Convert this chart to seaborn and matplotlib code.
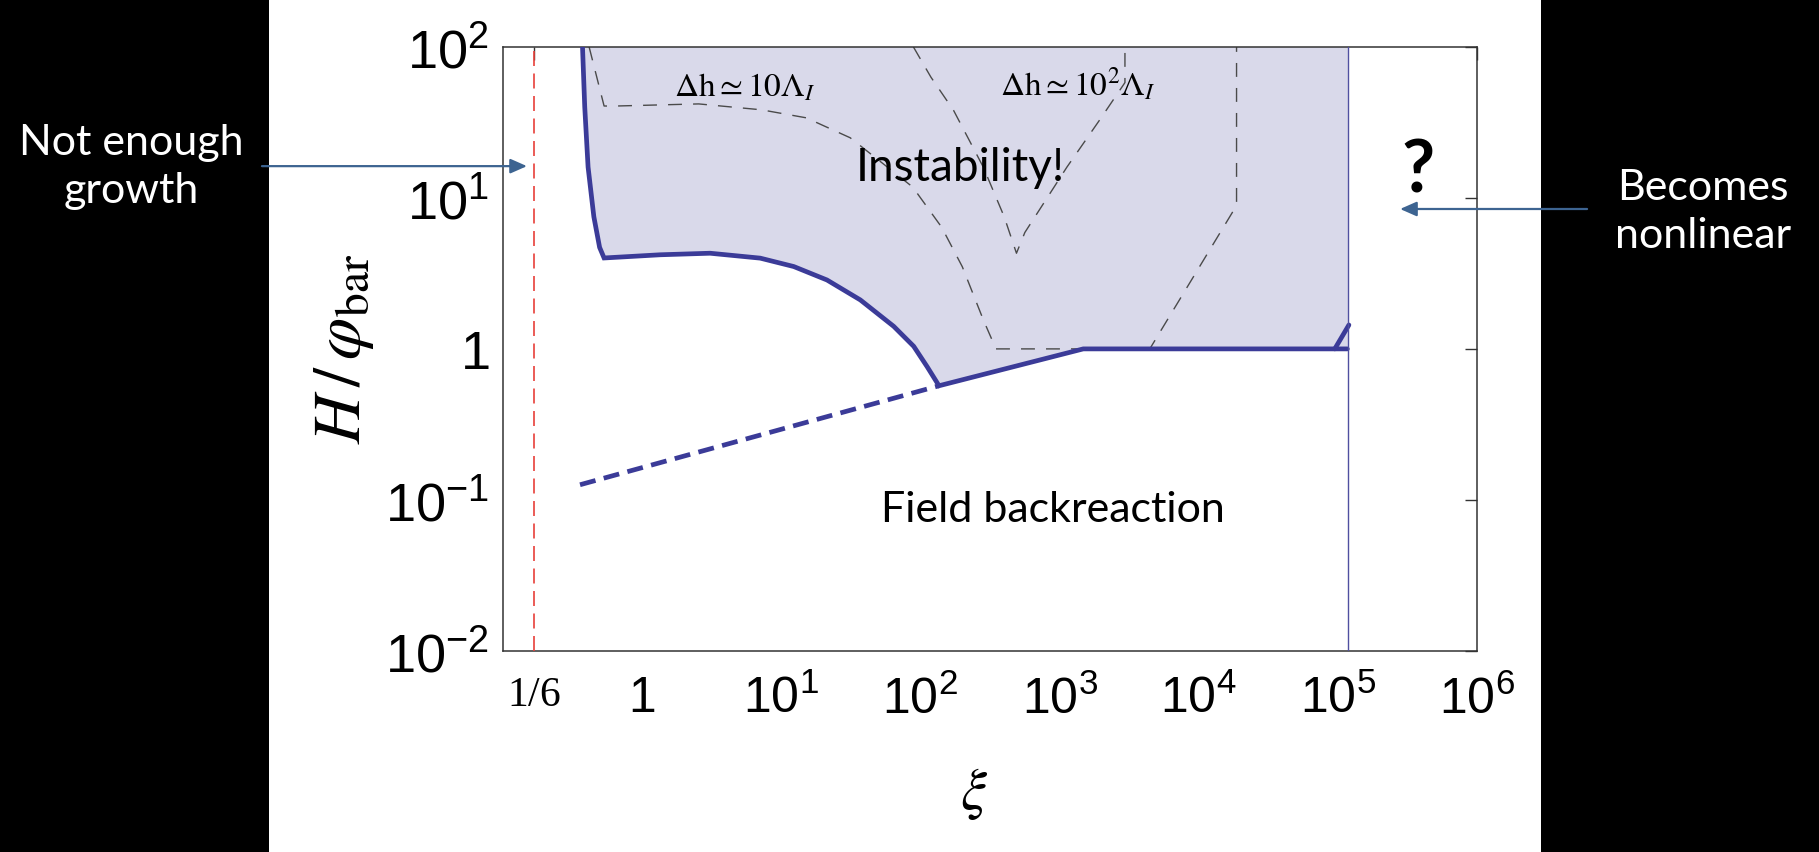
import numpy as np
import pandas as pd
import matplotlib
matplotlib.use("Agg")
import matplotlib.pyplot as plt
import seaborn as sns
from matplotlib.patches import Rectangle, FancyArrowPatch
from matplotlib.ticker import NullLocator, FixedLocator

# ---------------- data ----------------
# lower/left boundary of the instability region (solid thick line)
bnd_xi = [0.373, 0.387, 0.409, 0.45, 0.495, 0.533, 1.35, 3.08, 7.06, 12.3, 21.3,
          37.0, 64.3, 89.5, 112.0, 136.0, 1480.0, 1.17e5]
bnd_h = [100.0, 40.0, 16.0, 7.5, 4.7, 4.0, 4.2, 4.3, 3.99, 3.51, 2.86,
         2.11, 1.41, 1.04, 0.76, 0.57, 1.0, 1.0]
# dashed continuation of the backreaction bound
ext_xi = [0.358, 136.0]
ext_h = [0.126, 0.57]
# small upturn near the nonlinear limit
up_xi = [9.5e4, 1.2e5]
up_h = [1.0, 1.44]
# contour  Delta h ~ 10 Lambda_I
c10_xi = [0.416, 0.533, 0.6, 2.55, 7.2, 15.1, 31.3, 88.0, 142.0, 200.0, 283.0,
          349.0, 4450.0, 18700.0, 18700.0]
c10_h = [100.0, 40.6, 40.5, 41.9, 38.3, 33.9, 25.0, 11.8, 6.4, 3.5, 1.56,
         1.0, 1.0, 8.9, 100.0]
# contour  Delta h ~ 10^2 Lambda_I
c100_xi = [89.0, 119.0, 173.0, 283.0, 400.0, 490.0, 563.0, 1130.0, 1950.0, 2950.0, 2950.0]
c100_h = [100.0, 63.0, 38.0, 16.0, 7.5, 4.3, 5.9, 16.0, 33.0, 58.0, 100.0]
xi_min = 1.0 / 6.0          # "not enough growth"
xi_nonlin = 1.18e5          # "becomes nonlinear"
h_top = 100.0

xtick_vals = [1 / 6, 1, 1e1, 1e2, 1e3, 1e4, 1e5, 1e6]
xtick_text = [r"$\mathrm{1/6}$", r"$\mathsf{1}$", r"$\mathsf{10^{1}}$", r"$\mathsf{10^{2}}$",
              r"$\mathsf{10^{3}}$", r"$\mathsf{10^{4}}$", r"$\mathsf{10^{5}}$", r"$\mathsf{10^{6}}$"]
ytick_vals = [1e-2, 1e-1, 1, 1e1, 1e2]
ytick_text = [r"$\mathsf{10^{-2}}$", r"$\mathsf{10^{-1}}$", r"$\mathsf{1}$",
              r"$\mathsf{10^{1}}$", r"$\mathsf{10^{2}}$"]

# ---------------- style ----------------
sns.set_style("white")
plt.rcParams["font.family"] = ["Lato", "DejaVu Sans"]
plt.rcParams["text.color"] = "black"
plt.rcParams["axes.labelcolor"] = "black"
plt.rcParams["mathtext.fontset"] = "stix"
plt.rcParams["mathtext.rm"] = "Liberation Serif"
plt.rcParams["mathtext.it"] = "Liberation Serif:italic"
plt.rcParams["mathtext.sf"] = "Liberation Sans"
plt.rcParams["mathtext.bf"] = "Liberation Sans:bold"

LINE = "#3b3b98"
FILL = "#d9d9ea"
DASHK = "#4a4a4a"
ARROW = "#3d6491"

fig = plt.figure(figsize=(18.19, 8.52), dpi=100)
fig.patch.set_facecolor("black")
fig.add_artist(Rectangle((0.1479, 0.0), 0.6993, 1.0, transform=fig.transFigure,
                         facecolor="white", edgecolor="none", zorder=-5))

ax = fig.add_axes([0.2765, 0.236, 0.5355, 0.709])
ax.set_facecolor("white")
ax.set_xscale("log")
ax.set_yscale("log")

# shaded instability region
poly_x = bnd_xi + [xi_nonlin, xi_nonlin]
poly_y = bnd_h + [bnd_h[-1], h_top]
ax.fill(poly_x, poly_y, color=FILL, lw=0, zorder=1)

# contours (thin black dashed)
sns.lineplot(x=c10_xi, y=c10_h, sort=False, estimator=None, ax=ax, color=DASHK,
             lw=1.0, linestyle=(0, (10, 8)), zorder=2)
sns.lineplot(x=c100_xi, y=c100_h, sort=False, estimator=None, ax=ax, color=DASHK,
             lw=1.0, linestyle=(0, (10, 8)), zorder=2)

# boundary
sns.lineplot(x=bnd_xi, y=bnd_h, sort=False, estimator=None, ax=ax, color=LINE,
             lw=3.4, zorder=3, solid_joinstyle="miter")
sns.lineplot(x=ext_xi, y=ext_h, sort=False, estimator=None, ax=ax, color=LINE,
             lw=3.4, linestyle=(0, (3.4, 1.8)), zorder=3)
sns.lineplot(x=up_xi, y=up_h, sort=False, estimator=None, ax=ax, color=LINE,
             lw=3.4, zorder=3)

ax.axvline(xi_nonlin, color="#5050a0", lw=1.0, zorder=3)
ax.axvline(xi_min, color="#e8403a", lw=1.2, linestyle=(0, (9, 4.5)), zorder=3)

ax.set_xlim(0.1, 1e6)
ax.set_ylim(1e-2, 1e2)
ax.xaxis.set_major_locator(FixedLocator(xtick_vals))
ax.yaxis.set_major_locator(FixedLocator(ytick_vals))
ax.xaxis.set_minor_locator(NullLocator())
ax.yaxis.set_minor_locator(NullLocator())
ax.set_xticklabels(xtick_text, fontsize=36, math_fontfamily="custom")
ax.set_yticklabels(ytick_text, fontsize=39, math_fontfamily="custom")
ax.get_xticklabels()[0].set_fontsize(30)
ax.tick_params(axis="both", which="major", direction="in", length=9, width=1.0,
               top=True, right=True, color="#333333", labelcolor="black")
ax.tick_params(axis="x", pad=17)
ax.tick_params(axis="y", pad=10)
for sp in ax.spines.values():
    sp.set_color("#333333")
    sp.set_linewidth(1.1)

ax.set_xlabel(r"$\xi$", fontsize=42)
ax.set_ylabel(r"$H\,/\,\varphi_{\mathrm{bar}}$", fontsize=49)
ax.xaxis.set_label_coords(0.484, -0.19)
ax.yaxis.set_label_coords(-0.13, 0.5)

# annotations inside axes
ax.text(5.5, 54, r"$\Delta\mathrm{h}\simeq 10\Lambda_I$", fontsize=24, ha="center",
        va="center", zorder=4)
ax.text(1350, 56, r"$\Delta\mathrm{h}\simeq 10^2\Lambda_I$", fontsize=24, ha="center",
        va="center", zorder=4)
ax.text(194, 15.8, "Instability!", fontsize=33, ha="center", va="center", zorder=4)
ax.text(891, 0.0859, "Field backreaction", fontsize=31, ha="center", va="center", zorder=4)
ax.text(3.8e5, 14.9, "?", fontsize=52, fontweight="bold", ha="center", va="center", zorder=4)

# outside annotations
fig.text(0.072, 0.804, "Not enough\ngrowth", color="white", fontsize=31, ha="center",
         va="center", linespacing=1.3)
fig.text(0.9362, 0.751, "Becomes\nnonlinear", color="white", fontsize=31, ha="center",
         va="center", linespacing=1.3)
fig.add_artist(FancyArrowPatch((0.144, 0.805), (0.2897, 0.805), transform=fig.transFigure,
                               arrowstyle="-|>,head_length=0.5,head_width=0.22",
                               mutation_scale=20, color=ARROW, lw=1.6,
                               shrinkA=0, shrinkB=0, zorder=5))
fig.add_artist(FancyArrowPatch((0.8725, 0.7547), (0.7697, 0.7547), transform=fig.transFigure,
                               arrowstyle="-|>,head_length=0.5,head_width=0.22",
                               mutation_scale=20, color=ARROW, lw=1.6,
                               shrinkA=0, shrinkB=0, zorder=5))

fig.savefig("out.png", dpi=100, facecolor=fig.get_facecolor())
